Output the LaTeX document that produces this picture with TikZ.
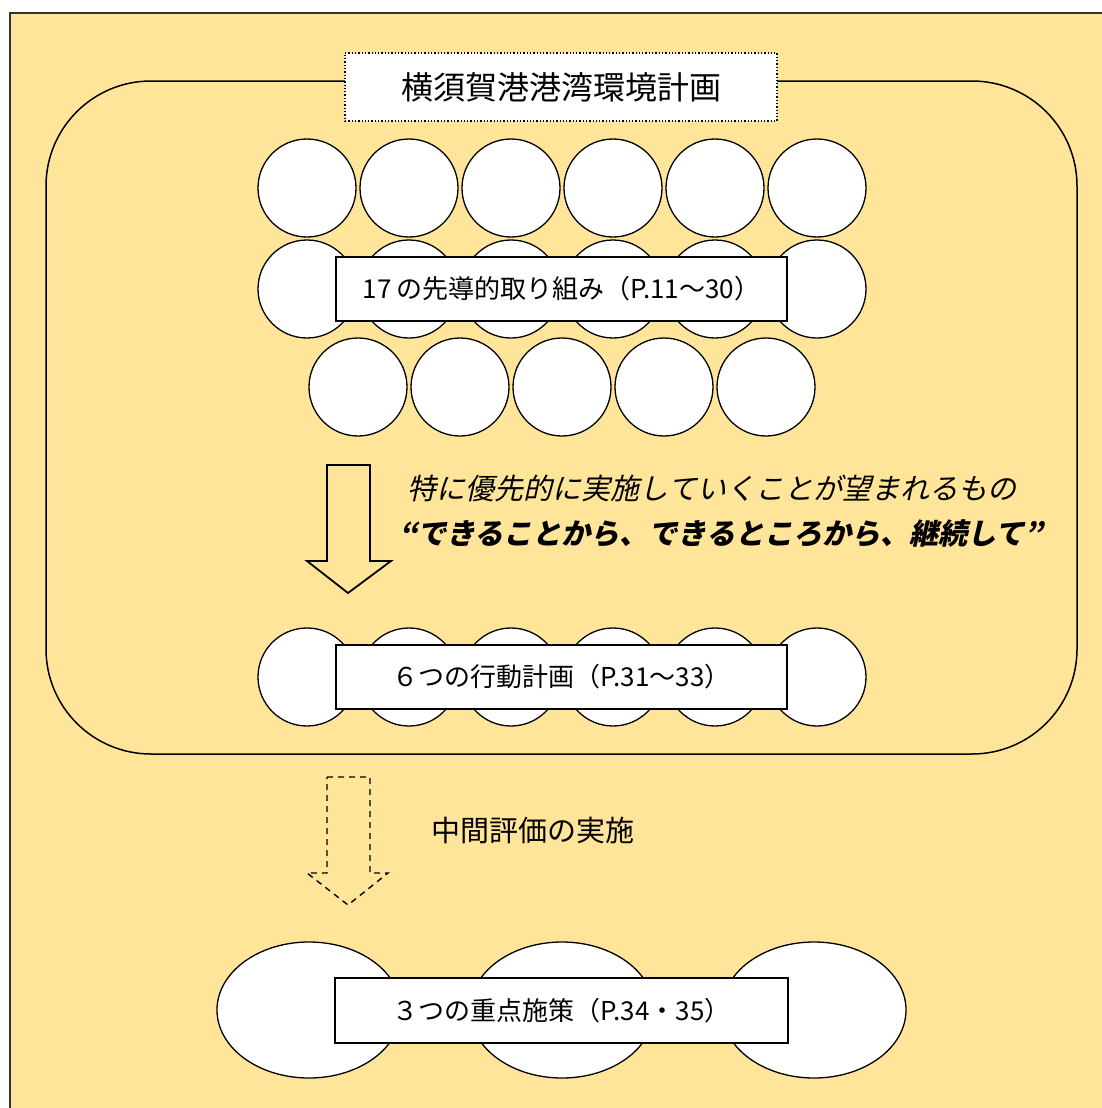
\documentclass[tikz,border=0pt]{standalone}
\usepackage{fontspec}
\setmainfont{Noto Sans CJK JP}
\newfontfamily\jpslant[FakeSlant=0.22]{Noto Sans CJK JP}
\definecolor{planyellow}{RGB}{255, 229, 153}
\usetikzlibrary{shapes.geometric, positioning}

\begin{document}
\begin{tikzpicture}[x=1pt, y=-1pt,
    bubble/.style={circle, draw, fill=white, line width=1.3pt, minimum size=98pt, inner sep=0pt},
    oval/.style={ellipse, draw, fill=white, line width=1.3pt, minimum width=184pt, minimum height=136pt, inner sep=0pt},
    tierbox/.style={draw, fill=white, line width=1.8pt, minimum width=451pt, minimum height=64pt, inner sep=0pt, font=\fontsize{26}{30}\selectfont},
    hollowarrow/.style={draw, line width=1.8pt, line join=miter}]
  \useasboundingbox (0,0) rectangle (1102,1108);

  % background sheet
  \fill[white] (0,0) rectangle (1102,1108);
  \draw[fill=planyellow, line width=1.4pt, draw=black!80] (10,13) rectangle (1130,1130);

  % plan frame
  \draw[line width=1.5pt, rounded corners=105pt] (46,81) rectangle (1077,754);

  % 17 leading actions - three rows of bubbles
  \foreach \i/\x in {1/307, 2/409, 3/511, 4/613, 5/715, 6/817} {
    \node[bubble] (top\i) at (\x,188) {};
    \node[bubble] (mid\i) at (\x,289) {};
  }
  \foreach \i/\x in {1/358, 2/460, 3/562, 4/664, 5/766} {
    \node[bubble] (low\i) at (\x,387) {};
  }
  \node[draw, dotted, line width=1.3pt, fill=white, minimum width=432pt, minimum height=68pt,
        font=\fontsize{32}{36}\selectfont] (title) at (561,87) {横須賀港港湾環境計画};
  \node[tierbox] (leading) at (561.5,289) {17\,の先導的取り組み（P.11～30）};

  % priority arrow
  \draw[hollowarrow] (327,465) -- (370,465) -- (370,561) -- (391,561) -- (348,593)
    -- (307,561) -- (327,561) -- cycle;
  \node[font=\fontsize{29}{32}\selectfont\jpslant] (wish) at (712,488)
    {特に優先的に実施していくことが望まれるもの};
  \node[font=\fontsize{29}{32}\selectfont\jpslant\bfseries] (motto) at (721,534)
    {“できることから、できるところから、継続して”};

  % 6 action plans
  \foreach \i/\x in {1/307, 2/409, 3/511, 4/613, 5/715, 6/817} {
    \node[bubble] (act\i) at (\x,677) {};
  }
  \node[tierbox] (actions) at (561.5,677) {６つの行動計画（P.31～33）};

  % interim review arrow
  \draw[hollowarrow, line width=1.4pt, dash pattern=on 6pt off 5pt] (327,777) -- (370,777) -- (370,873)
    -- (388,873) -- (348,905) -- (307,873) -- (327,873) -- cycle;
  \node[font=\fontsize{29}{32}\selectfont] (review) at (533,830) {中間評価の実施};

  % 3 key measures
  \foreach \i/\x in {1/309, 2/562, 3/814} {
    \node[oval] (key\i) at (\x,1010) {};
  }
  \node[tierbox, minimum width=453pt, minimum height=65pt] (measures) at (561.5,1010.5) {３つの重点施策（P.34・35）};
\end{tikzpicture}
\end{document}
